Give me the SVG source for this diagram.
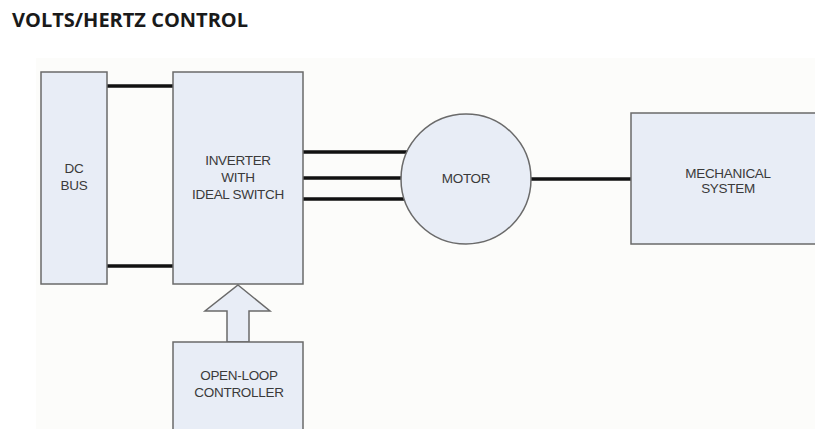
<svg xmlns="http://www.w3.org/2000/svg" width="815" height="429" viewBox="0 0 815 429">
<style>
.box{fill:#e8edf6;stroke:#6a6a6a;stroke-width:1.5}
.lbl{font-family:"Liberation Sans",Arial,sans-serif;font-size:13.5px;fill:#3a3a3a;text-anchor:middle;letter-spacing:-0.3px}
.wire{stroke:#111;stroke-width:3.5;fill:none}
</style>
<rect width="815" height="429" fill="#ffffff"/>
<rect x="36" y="58" width="779" height="371" fill="#fcfcfa"/>
<text x="12" y="27" font-family="'Open Sans','DejaVu Sans',sans-serif" font-size="20" font-weight="bold" fill="#1a1a1a">VOLTS/HERTZ CONTROL</text>
<g id="connectors">
<line class="wire" x1="107" y1="86" x2="173" y2="86"/>
<line class="wire" x1="107" y1="266" x2="173" y2="266"/>
<line class="wire" x1="303" y1="152" x2="408" y2="152"/>
<line class="wire" x1="303" y1="178" x2="402" y2="178"/>
<line class="wire" x1="303" y1="199" x2="407" y2="199"/>
<line class="wire" x1="531" y1="179" x2="631" y2="179"/>
<polygon id="arrow" class="box" points="238,285 270,311 249,311 249,342 227,342 227,311 205,311"/>
</g>
<g id="dcbus">
<rect class="box" x="41" y="72" width="66" height="212"/>
<text class="lbl" x="74" y="173">DC</text>
<text class="lbl" x="74" y="190">BUS</text>
</g>
<g id="inverter">
<rect class="box" x="173" y="72" width="130" height="212"/>
<text class="lbl" x="238" y="165">INVERTER</text>
<text class="lbl" x="238" y="182">WITH</text>
<text class="lbl" x="238" y="199">IDEAL SWITCH</text>
</g>
<g id="motor">
<circle class="box" cx="466" cy="179" r="65"/>
<text class="lbl" x="466" y="183">MOTOR</text>
</g>
<g id="mechanical">
<rect class="box" x="631" y="113" width="200" height="131"/>
<text class="lbl" x="728" y="178">MECHANICAL</text>
<text class="lbl" x="728" y="193">SYSTEM</text>
</g>
<g id="controller">
<rect class="box" x="173" y="342" width="130" height="100"/>
<text class="lbl" x="239" y="380">OPEN-LOOP</text>
<text class="lbl" x="239" y="397">CONTROLLER</text>
</g>
</svg>
